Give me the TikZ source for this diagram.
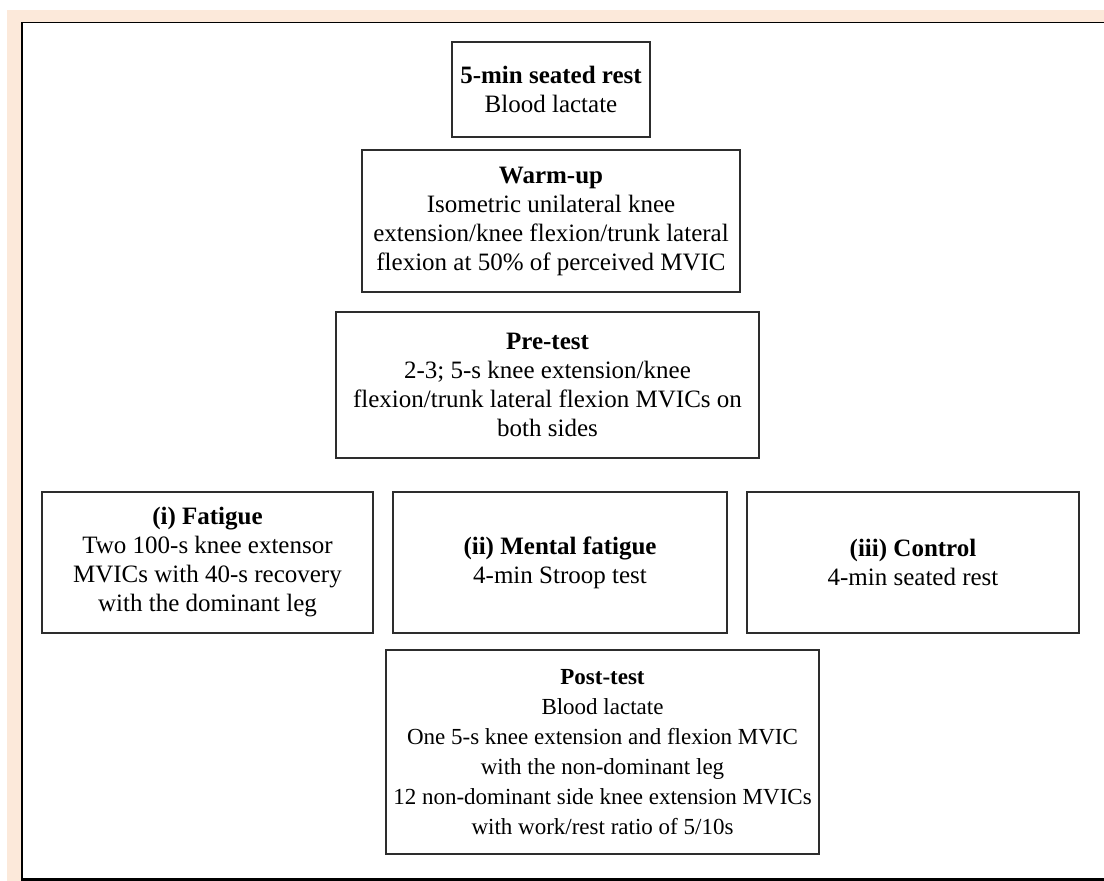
\documentclass[tikz,border=0pt]{standalone}
\usepackage{fontspec}
\setmainfont{Liberation Serif}
\definecolor{peach}{RGB}{252,233,218}
\definecolor{boxgray}{RGB}{45,45,45}

\begin{document}
\begin{tikzpicture}[x=1pt, y=-1pt,
		stage/.style = {draw=boxgray, line width=1.4pt, align=center, inner sep=0pt,
			font=\fontsize{25}{29}\selectfont}]
	% page and frame
	\useasboundingbox (0,0) rectangle (1104,881);
	\fill[white] (0,0) rectangle (1104,881);
	\fill[peach] (7,10) rectangle (1104,881);
	\fill[white] (21,22) rectangle (1104,879);
	\draw[line width=1pt] (21,22.5) -- (1104,22.5);
	\draw[line width=2pt] (22,22) -- (22,881);
	\draw[line width=2.5pt] (21,879.5) -- (1104,879.5);

	% stages
	\node[stage, minimum width=198pt, minimum height=95pt] (rest) at (551,89.5)
		{\textbf{5-min seated rest}\\Blood lactate};
	\node[stage, minimum width=378pt, minimum height=142pt] (warmup) at (551,221)
		{\textbf{Warm-up}\\Isometric unilateral knee\\extension/knee flexion/trunk lateral\\flexion at 50\% of perceived MVIC};
	\node[stage, minimum width=423pt, minimum height=146pt] (pretest) at (547.5,385)
		{\textbf{Pre-test}\\2-3; 5-s knee extension/knee\\flexion/trunk lateral flexion MVICs on\\both sides};

	% conditions
	\node[stage, minimum width=331pt, minimum height=141pt] (fatigue) at (207.5,562.5)
		{\textbf{(i) Fatigue}\\Two 100-s knee extensor\\MVICs with 40-s recovery\\with the dominant leg};
	\node[stage, minimum width=334pt, minimum height=141pt] (mental) at (560,562.5)
		{\textbf{(ii) Mental fatigue}\\4-min Stroop test};
	\node[stage, minimum width=332pt, minimum height=141pt] (control) at (913,562.5)
		{\textbf{(iii) Control}\\4-min seated rest};

	\node[stage, minimum width=433pt, minimum height=204pt, font=\fontsize{23}{30}\selectfont] (posttest) at (602.5,752)
		{\textbf{Post-test}\\Blood lactate\\One 5-s knee extension and flexion MVIC\\with the non-dominant leg\\12 non-dominant side knee extension MVICs\\with work/rest ratio of 5/10s};
\end{tikzpicture}
\end{document}
